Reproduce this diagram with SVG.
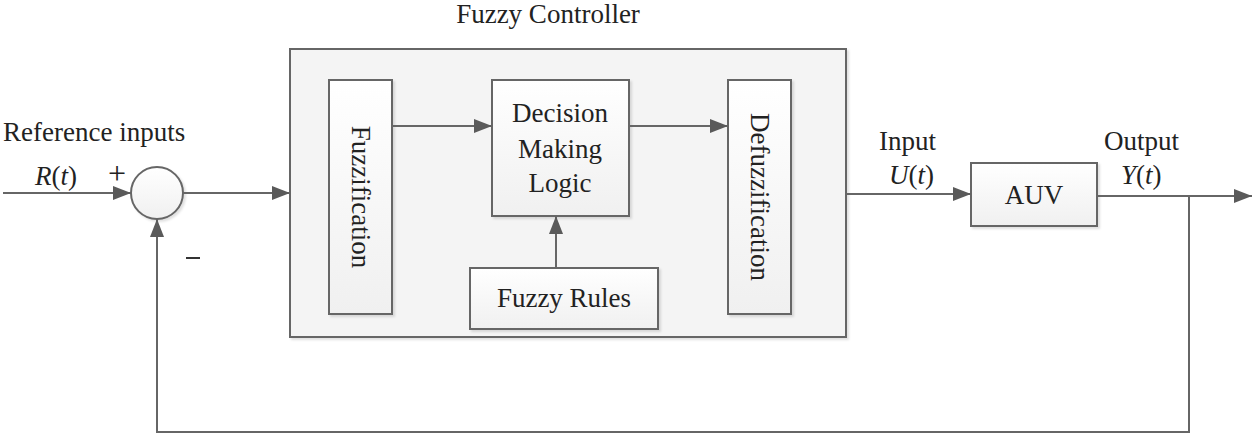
<svg xmlns="http://www.w3.org/2000/svg" width="1255" height="436" viewBox="0 0 1255 436">
<style>
.box{fill:url(#g);stroke:#666;stroke-width:2}
.outer{fill:#f4f4f4;stroke:#666;stroke-width:2}
.t{font-family:"Liberation Serif","Times New Roman",serif;font-size:27px;fill:#222}
.c{text-anchor:middle}
.ln{fill:none;stroke:#666;stroke-width:2}
</style>
<defs>
<linearGradient id="g" x1="0" y1="0" x2="0" y2="1"><stop offset="0" stop-color="#ffffff"/><stop offset="1" stop-color="#f0f0f0"/></linearGradient>
<filter id="sh" x="-10%" y="-10%" width="130%" height="130%"><feDropShadow dx="2" dy="2" stdDeviation="1.2" flood-color="#000" flood-opacity="0.12"/></filter>
<marker id="a" viewBox="0 0 18 14" refX="18" refY="7" markerWidth="18" markerHeight="14" markerUnits="userSpaceOnUse" orient="auto"><path d="M0,0 L18,7 L0,14 Z" fill="#5a5a5a"/></marker>
</defs>
<text class="t c" x="548" y="23">Fuzzy Controller</text>
<g id="controller"><rect class="outer" x="290" y="49" width="556" height="288" filter="url(#sh)"/></g>
<g id="fuzzification"><rect class="box" x="329" y="80" width="63" height="234" filter="url(#sh)"/><text class="t c" transform="translate(361,197) rotate(90)" y="9">Fuzzification</text></g>
<g id="decision"><rect class="box" x="492" y="80" width="137" height="136" filter="url(#sh)"/><text class="t c" x="560" y="122">Decision</text><text class="t c" x="560" y="158">Making</text><text class="t c" x="560" y="192">Logic</text></g>
<g id="defuzzification"><rect class="box" x="728" y="80" width="63" height="234" filter="url(#sh)"/><text class="t c" transform="translate(760,197) rotate(90)" y="9">Defuzzification</text></g>
<g id="rules"><rect class="box" x="470" y="268" width="188" height="61" filter="url(#sh)"/><text class="t c" x="564" y="307">Fuzzy Rules</text></g>
<g id="sum"><circle cx="157" cy="193" r="26" fill="url(#g)" stroke="#666" stroke-width="2" filter="url(#sh)"/></g>
<g id="auv"><rect class="box" x="971" y="163" width="126" height="63" filter="url(#sh)"/><text class="t c" x="1034" y="204">AUV</text></g>
<g id="connectors">
<line class="ln" x1="3" y1="193" x2="131" y2="193" marker-end="url(#a)"/>
<line class="ln" x1="183" y1="193" x2="290" y2="193" marker-end="url(#a)"/>
<line class="ln" x1="392" y1="126" x2="492" y2="126" marker-end="url(#a)"/>
<line class="ln" x1="629" y1="126" x2="728" y2="126" marker-end="url(#a)"/>
<line class="ln" x1="556" y1="268" x2="556" y2="216" marker-end="url(#a)"/>
<line class="ln" x1="846" y1="194" x2="971" y2="194" marker-end="url(#a)"/>
<line class="ln" x1="1097" y1="196" x2="1252" y2="196" marker-end="url(#a)"/>
<polyline class="ln" points="1189,196 1189,432 157,432 157,219" marker-end="url(#a)"/>
</g>
<text class="t" x="3" y="141">Reference inputs</text>
<text class="t" x="35" y="185"><tspan font-style="italic">R</tspan>(<tspan font-style="italic">t</tspan>)</text>
<text class="t" x="108" y="184" style="font-size:32px">+</text>
<line x1="186" y1="258" x2="200" y2="258" stroke="#333" stroke-width="2"/>
<text class="t" x="879" y="150">Input</text>
<text class="t" x="889" y="184"><tspan font-style="italic">U</tspan>(<tspan font-style="italic">t</tspan>)</text>
<text class="t" x="1104" y="150">Output</text>
<text class="t" x="1121" y="184"><tspan font-style="italic">Y</tspan>(<tspan font-style="italic">t</tspan>)</text>
</svg>
